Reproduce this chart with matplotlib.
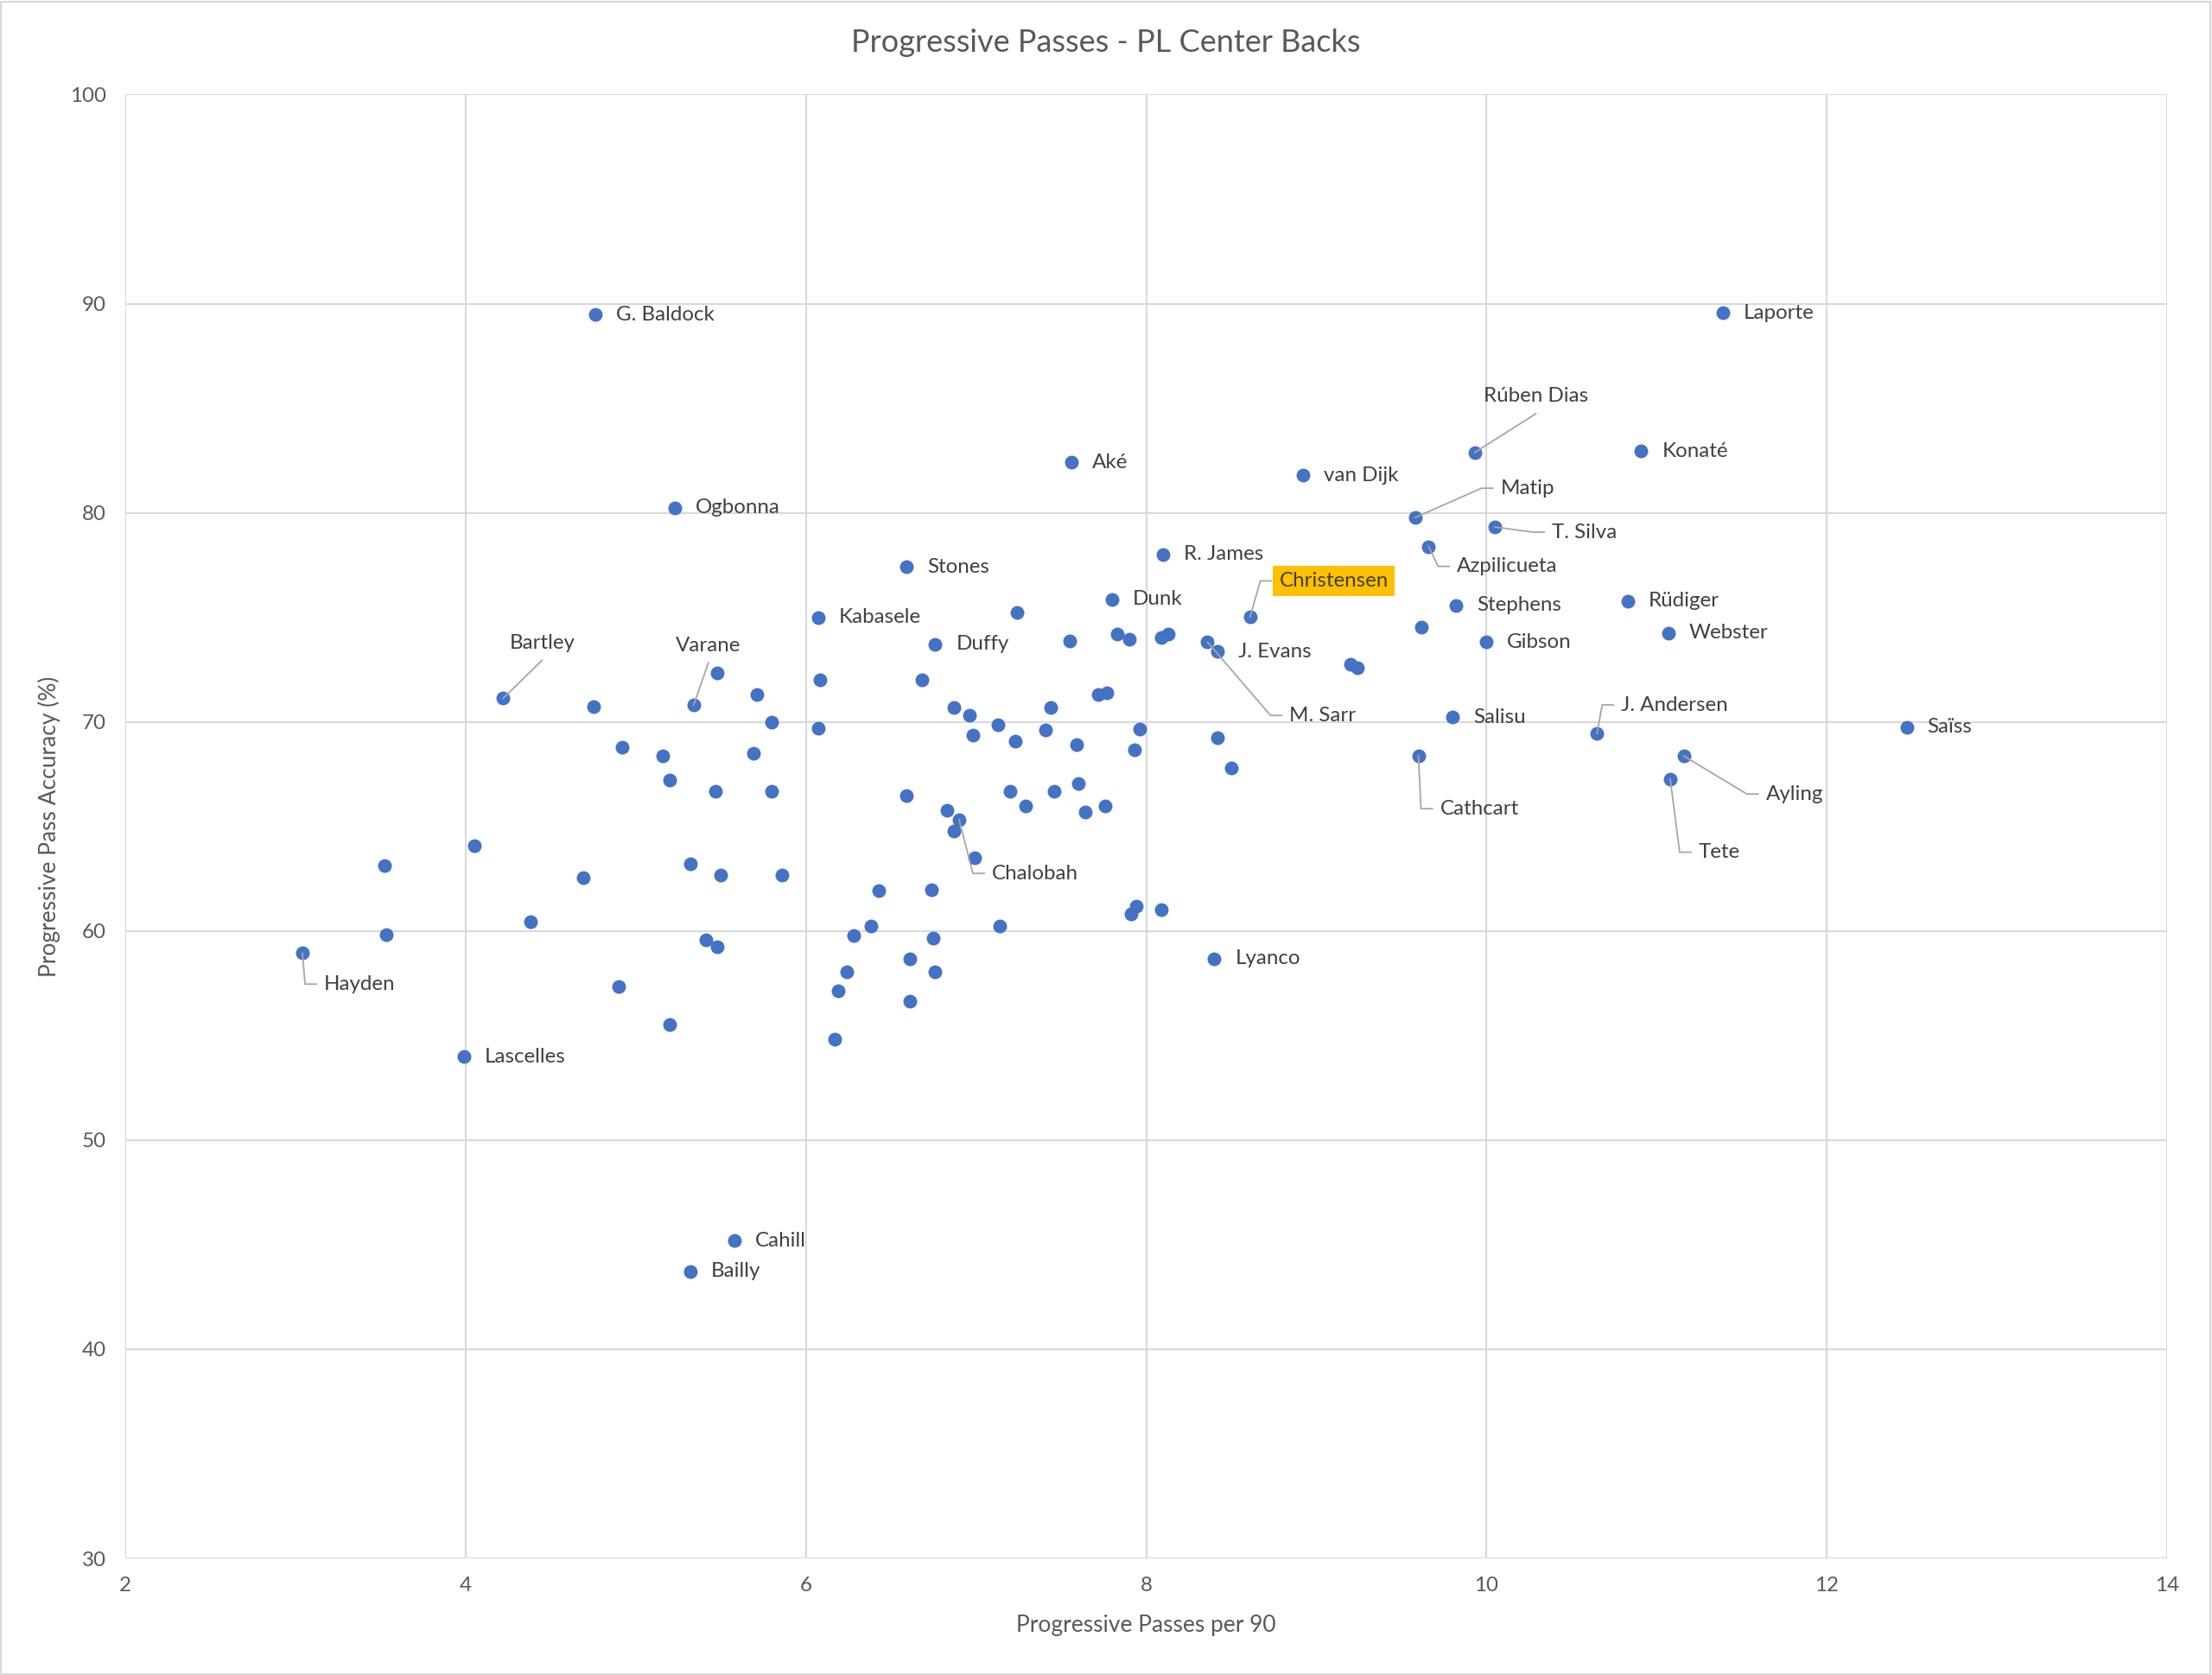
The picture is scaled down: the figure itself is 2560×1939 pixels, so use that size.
import matplotlib.pyplot as plt
from matplotlib.patches import Rectangle

plt.rcParams["font.family"] = ["Lato", "DejaVu Sans"]

TITLE = "Progressive Passes - PL Center Backs"
X_LABEL = "Progressive Passes per 90"
Y_LABEL = "Progressive Pass Accuracy (%)"

# one entry per centre back, "" = no data label
players = [
    "G. Baldock", "Laporte", "Rúben Dias", "Konaté", "Aké", "van Dijk",
    "Ogbonna", "Matip", "T. Silva", "Azpilicueta", "R. James", "Stones",
    "Rüdiger", "Dunk", "Stephens", "Christensen", "Kabasele", "Webster",
    "Gibson", "Duffy", "M. Sarr", "J. Evans", "Bartley", "Varane",
    "Salisu", "Saïss", "J. Andersen", "Ayling", "Cathcart", "Tete",
    "Chalobah", "Hayden", "Lyanco", "Lascelles", "Cahill", "Bailly",
] + [""] * 74

prog_passes = [
    4.76, 11.39, 9.93, 10.91, 7.56, 8.92,
    5.23, 9.58, 10.05, 9.66, 8.10, 6.59,
    10.83, 7.80, 9.82, 8.61, 6.07, 11.07,
    10.00, 6.76, 8.36, 8.42, 4.22, 5.34,
    9.80, 12.47, 10.65, 11.16, 9.60, 11.08,
    6.90, 3.04, 8.40, 3.99, 5.58, 5.32,
    4.75, 5.48, 5.71, 5.80, 4.92, 5.16, 5.69, 5.20, 5.47, 5.80,
    4.05, 3.52, 4.69, 5.32, 5.50, 4.38, 3.53, 5.41, 5.48, 4.90, 5.20,
    7.24, 7.55, 7.83, 7.90, 8.09, 8.13, 6.08, 6.68, 7.72, 7.77,
    6.87, 6.96, 7.44, 6.07, 6.98, 7.13, 7.23, 7.41, 7.59, 7.96,
    7.93, 8.42, 8.50, 6.59, 7.20, 7.46, 7.60, 7.29, 7.64, 7.76,
    6.83, 6.87, 6.99, 5.86,
    6.43, 6.74, 7.94, 7.91, 8.09, 6.38, 6.28, 7.14, 6.75, 6.61,
    6.76, 6.24, 6.19, 6.61, 6.17,
    9.62, 9.20, 9.24,
]

pass_accuracy = [
    89.48, 89.56, 82.88, 82.95, 82.42, 81.79,
    80.24, 79.77, 79.32, 78.39, 78.01, 77.41,
    75.79, 75.87, 75.58, 75.01, 74.99, 74.26,
    73.82, 73.72, 73.82, 73.37, 71.13, 70.81,
    70.22, 69.75, 69.45, 68.37, 68.37, 67.28,
    65.32, 58.95, 58.68, 53.99, 45.20, 43.73,
    70.74, 72.33, 71.30, 70.00, 68.79, 68.38, 68.49, 67.22, 66.67, 66.67,
    64.08, 63.14, 62.55, 63.21, 62.66, 60.46, 59.84, 59.57, 59.25, 57.36, 55.54,
    75.22, 73.86, 74.19, 73.95, 74.02, 74.20, 72.00, 72.00, 71.31, 71.38,
    70.68, 70.33, 70.69, 69.71, 69.38, 69.86, 69.09, 69.62, 68.91, 69.66,
    68.65, 69.23, 67.79, 66.48, 66.68, 66.68, 67.07, 65.97, 65.69, 65.97,
    65.79, 64.80, 63.49, 62.69,
    61.95, 61.98, 61.18, 60.80, 61.01, 60.23, 59.77, 60.23, 59.67, 58.68,
    58.05, 58.05, 57.15, 56.65, 54.84,
    74.53, 72.74, 72.58,
]

x_ticks = [2, 4, 6, 8, 10, 12, 14]
y_ticks = [30, 40, 50, 60, 70, 80, 90, 100]

HIGHLIGHT = "Christensen"

# label layout, pixel offsets from the dot (image y goes down)
side_leaders = {
    "Matip": (99, -34), "T. Silva": (66, 6), "Azpilicueta": (33, 23),
    "Christensen": (34, -42), "M. Sarr": (95, 85), "J. Andersen": (28, -33),
    "Cathcart": (25, 61), "Ayling": (95, 44), "Tete": (33, 85),
    "Hayden": (25, 36), "Chalobah": (38, 62),
}
top_leaders = {"Rúben Dias": (71, -45), "Bartley": (45, -44), "Varane": (17, -49)}

W, H = 2560, 1939
fig = plt.figure(figsize=(W / 100, H / 100), dpi=100)
ax = fig.add_axes([145.3 / W, 1 - 1804.1 / H, 2362.5 / W, 1694.7 / H])

ax.scatter(prog_passes, pass_accuracy, s=132, color="#4472C4", linewidths=0, zorder=3)
ax.set_xlim(x_ticks[0], x_ticks[-1])
ax.set_ylim(y_ticks[0], y_ticks[-1])
ax.set_xticks(x_ticks)
ax.set_yticks(y_ticks)
ax.grid(True, color="#D9D9D9", linewidth=1.5, zorder=0)
for s in ax.spines.values():
    s.set_visible(False)
ax.tick_params(length=0, labelsize=17.4, labelcolor="#595959")
ax.tick_params(axis="x", pad=15)
ax.tick_params(axis="y", pad=16)

label_font = dict(fontsize=17.4, color="#404040")
inv = ax.transData.inverted()

for name, x, y in zip(players, prog_passes, pass_accuracy):
    if not name:
        continue
    p = ax.transData.transform((x, y))
    if name in side_leaders:
        dx, dy = side_leaders[name]
        path = [(0, 0), (dx - 22, dy), (dx - 9, dy)]
        pts = inv.transform([(p[0] + a, p[1] - b) for a, b in path])
        ax.plot(pts[:, 0], pts[:, 1], color="#A6A6A6", lw=1.3, zorder=4, clip_on=False)
        box = None
        if name == HIGHLIGHT:
            box = dict(boxstyle="square,pad=0.3", fc="#FFC000", ec="none")
        ax.annotate(name, (x, y), xytext=(dx, -dy), textcoords="offset pixels",
                    ha="left", va="center", bbox=box, zorder=5, **label_font)
    elif name in top_leaders:
        dx, dy = top_leaders[name]
        pts = inv.transform([(p[0], p[1]), (p[0] + dx, p[1] - dy)])
        ax.plot(pts[:, 0], pts[:, 1], color="#A6A6A6", lw=1.3, zorder=4)
        ax.annotate(name, (x, y), xytext=(dx, -dy + 20), textcoords="offset pixels",
                    ha="center", va="center", zorder=5, **label_font)
    else:
        ax.annotate(name, (x, y), xytext=(24, 0), textcoords="offset pixels",
                    ha="left", va="center", zorder=5, **label_font)

fig.text(1280 / W, 1 - 49 / H, TITLE, ha="center", va="center", fontsize=26, color="#595959")
fig.text(1326.5 / W, 1 - 1881 / H, X_LABEL, ha="center", va="center", fontsize=19, color="#595959")
fig.text(57 / W, 1 - 956.8 / H, Y_LABEL, ha="center", va="center", rotation=90,
         fontsize=19, color="#595959")

fig.patches.append(Rectangle((1 / W, 1 / H), 1 - 3 / W, 1 - 3 / H, transform=fig.transFigure,
                             fill=False, edgecolor="#D9D9D9", linewidth=1.5))

fig.savefig("out.png", dpi=100, facecolor="white")
